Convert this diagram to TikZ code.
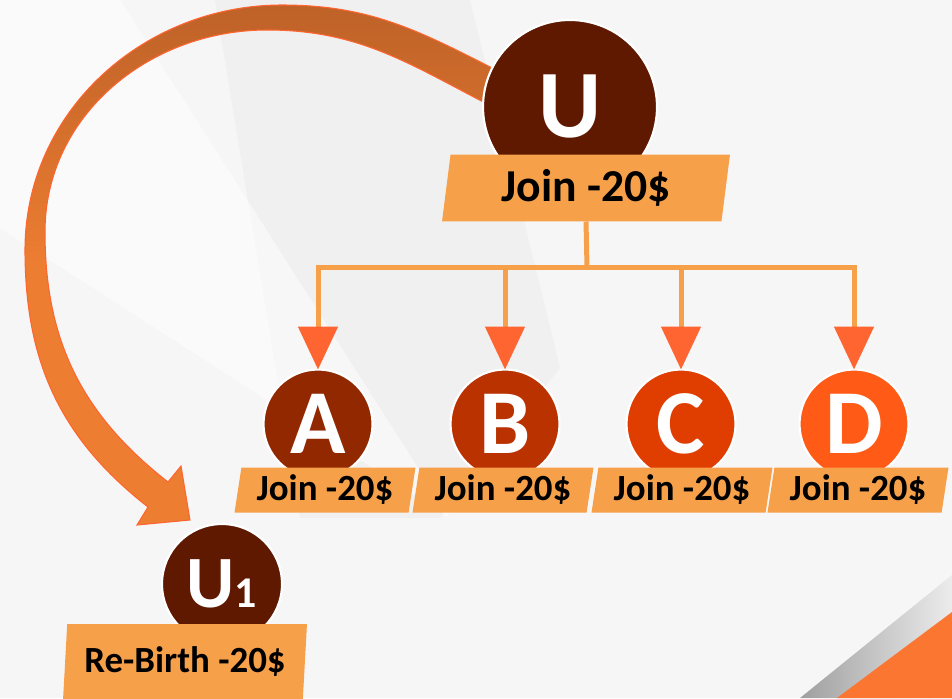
\documentclass[tikz,border=0pt]{standalone}
\usepackage{fontspec}
\setmainfont{Carlito}
\usepackage{tikz}
\usetikzlibrary{arrows.meta,positioning,shapes.geometric}
\definecolor{ubrown}{HTML}{5E1900}
\definecolor{abrown}{HTML}{922800}
\definecolor{bred}{HTML}{B93200}
\definecolor{corange}{HTML}{E03D00}
\definecolor{dorange}{HTML}{FF5A16}
\definecolor{tagorange}{HTML}{F6A04A}
\definecolor{tipred}{HTML}{FF6530}
\definecolor{arcbrown}{HTML}{BE6228}
\definecolor{arcorange}{HTML}{ED7D31}
\definecolor{bgwhite}{HTML}{F6F6F6}
\definecolor{bggray}{HTML}{F0F0F0}
\definecolor{stripe}{HTML}{FA7631}
\tikzset{
    %Define style for member circles
    member/.style={
           circle,
           fill=#1,
           draw=white, line width=1.2pt,
           text=white,
           inner sep=0pt, outer sep=0pt,
           minimum size=2.18cm,
           font=\fontsize{52}{52}\selectfont\bfseries},
    %Define style for price tags
    pricetag/.style={
           trapezium,
           trapezium left angle=77,
           trapezium right angle=103,
           trapezium stretches body,
           fill=tagorange,
           inner sep=0pt, outer sep=0pt,
           minimum width=3.62cm,
           minimum height=0.9cm,
           font=\fontsize{21}{25}\selectfont\bfseries},
    % Define line styles
    bus/.style={
           draw=tagorange,
           line width=0.1cm},
    drop/.style={
           bus,
           -{Triangle[width=0.78cm,length=0.86cm,color=tipred]}}
}
\begin{document}
\begin{tikzpicture}[x=0.02cm,y=0.02cm]
 %background
\fill[bgwhite] (0,0) rectangle (952,698);
\fill[bggray] (215,698) -- (470,698) -- (560,330) -- (440,180) -- (300,180) -- cycle;
\fill[white, opacity=0.5] (0,470) -- (0,698) -- (120,698) -- (450,180) -- (0,470);
\shade[left color=gray!75, right color=gray!15] (800,0) -- (952,123) -- (952,0) -- cycle;
\fill[stripe] (837,0) -- (952,86) -- (952,0) -- cycle;
\useasboundingbox (0,0) rectangle (952,698);
 %rebirth arrow
\shade[top color=arcbrown, bottom color=arcorange, middle color=arcorange, draw=tipred, line width=0.6pt]
  (500,626) to[out=153,in=0] (282,693) to[out=180,in=90] (25,448)
  to[out=-90,in=142] (148,191) -- (137,173) -- (190,178) -- (181,232) -- (168,216)
  to[out=142,in=-90] (45,466) to[out=90,in=180] (267,668) to[out=0,in=153] (495,590) -- cycle;
 %nodes
\node[member=ubrown, minimum size=3.48cm, font=\fontsize{55}{55}\selectfont\bfseries] (U) at (570,591) {U};
\node[pricetag, minimum width=5.76cm, minimum height=1.34cm, font=\fontsize{26}{30}\selectfont\bfseries] (Ubox) at (586,510) {Join -20\$};
\node[member=abrown] (A) at (318,274) {A};
\node[member=bred] (B) at (505,274) {B};
\node[member=corange] (C) at (681,274) {C};
\node[member=dorange] (D) at (854,274) {D};
\node[pricetag] (Abox) at (325,208) {Join -20\$};
\node[pricetag] (Bbox) at (503,208) {Join -20\$};
\node[pricetag] (Cbox) at (682,208) {Join -20\$};
\node[pricetag] (Dbox) at (858,208) {Join -20\$};
\node[member=ubrown, minimum size=2.4cm, font=\fontsize{42}{42}\selectfont\bfseries] (U1) at (222,114) {U{\fontsize{25}{25}\selectfont 1}};
\node[pricetag, trapezium left angle=82, trapezium right angle=98, minimum width=4.88cm, minimum height=1.52cm] (U1box) at (185,36) {Re-Birth -20\$};
 %tree lines
\coordinate (bus) at (587,431);
\draw[bus] (Ubox.center |- Ubox.south) -- (bus);
\draw[bus, line cap=rect] (A |- bus) -- (D |- bus);
\draw[drop] (A |- bus) -- (A.north);
\draw[drop] (B |- bus) -- (B.north);
\draw[drop] (C |- bus) -- (C.north);
\draw[drop] (D |- bus) -- (D.north);
\end{tikzpicture}
\end{document}
